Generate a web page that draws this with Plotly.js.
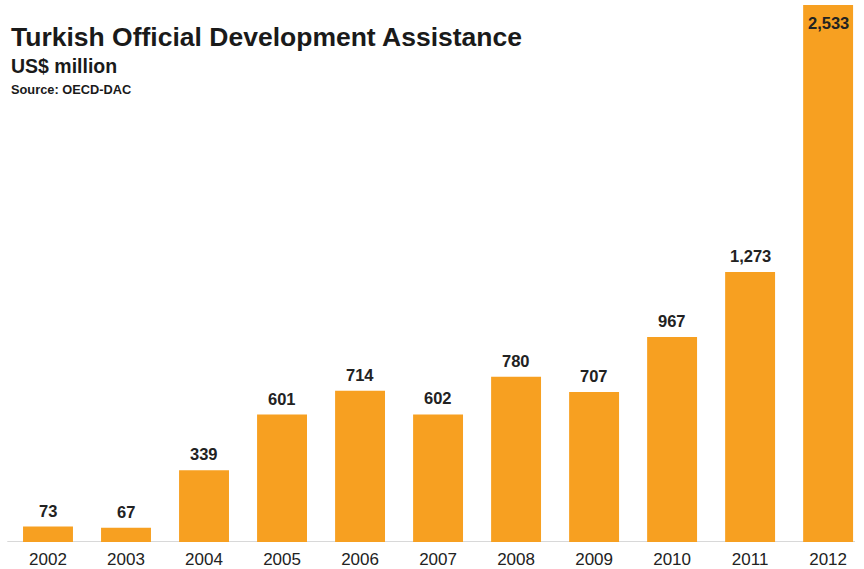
<!DOCTYPE html>
<html>
<head>
<meta charset="utf-8">
<script src="https://cdn.plot.ly/plotly-3.0.1.min.js"></script>
<style>html,body{margin:0;padding:0;background:#fff;}#chart{width:864px;height:569px;}</style>
</head>
<body>
<div id="chart"></div>
<script>
const years = ['2002','2003','2004','2005','2006','2007','2008','2009','2010','2011','2012'];
const values = [73, 67, 339, 601, 714, 602, 780, 707, 967, 1273, 2533];
const labels = ['73','67','339','601','714','602','780','707','967','1,273','2,533'];

const orange = '#F7A021';
const textColor = '#222222';

const trace = {
  type: 'bar',
  x: years,
  y: values,
  marker: {color: orange},
  hoverinfo: 'skip'
};

const annotations = [];
years.forEach((yr, i) => {
  const inside = (i === years.length - 1);
  annotations.push({
    x: i, y: values[i], xref: 'x', yref: 'y',
    text: '<b>' + labels[i] + '</b>', showarrow: false,
    yanchor: inside ? 'top' : 'bottom',
    yshift: inside ? -7 : 5,
    font: {family: 'Liberation Sans, Arial, sans-serif', size: 16.5, color: textColor}
  });
});

annotations.push(
  {xref:'paper', yref:'paper', x:0, y:1, yshift:-37, xanchor:'left', yanchor:'middle', showarrow:false,
   text:'<b>Turkish Official Development Assistance</b>',
   font:{family:'Liberation Sans Narrow, Liberation Sans, Arial, sans-serif', size:26.5, color:'#1a1a1a'}},
  {xref:'paper', yref:'paper', x:0, y:1, yshift:-66, xanchor:'left', yanchor:'middle', showarrow:false,
   text:'<b>US$ million</b>',
   font:{family:'Liberation Sans Narrow, Liberation Sans, Arial, sans-serif', size:19.5, color:'#1a1a1a'}},
  {xref:'paper', yref:'paper', x:0, y:1, yshift:-89, xanchor:'left', yanchor:'middle', showarrow:false,
   text:'<b>Source: OECD-DAC</b>',
   font:{family:'Liberation Sans Narrow, Liberation Sans, Arial, sans-serif', size:12.8, color:'#1a1a1a'}}
);

const layout = {
  width: 864, height: 569,
  margin: {l: 9, r: 0, t: 0, b: 27},
  paper_bgcolor: '#ffffff', plot_bgcolor: '#ffffff',
  bargap: 0.36,
  showlegend: false,
  xaxis: {
    type: 'category', range: [-0.5, 10.46], automargin: false,
    showline: false, ticklabelstandoff: 5,
    showgrid: false, zeroline: false, ticks: '',
    tickfont: {family: 'Liberation Sans, Arial, sans-serif', size: 17, color: textColor}
  },
  yaxis: {
    range: [0, 2556.6], automargin: false,
    showgrid: false, zeroline: false, showticklabels: false, showline: false
  },
  shapes: [{
    type: 'line', xref: 'paper', yref: 'y', x0: -0.002, x1: 0.9895, y0: 0, y1: 0,
    line: {color: '#b0b0b0', width: 1}, layer: 'below'
  }],
  annotations: annotations
};

Plotly.newPlot('chart', [trace], layout, {displayModeBar: false, staticPlot: true});
</script>
</body>
</html>
